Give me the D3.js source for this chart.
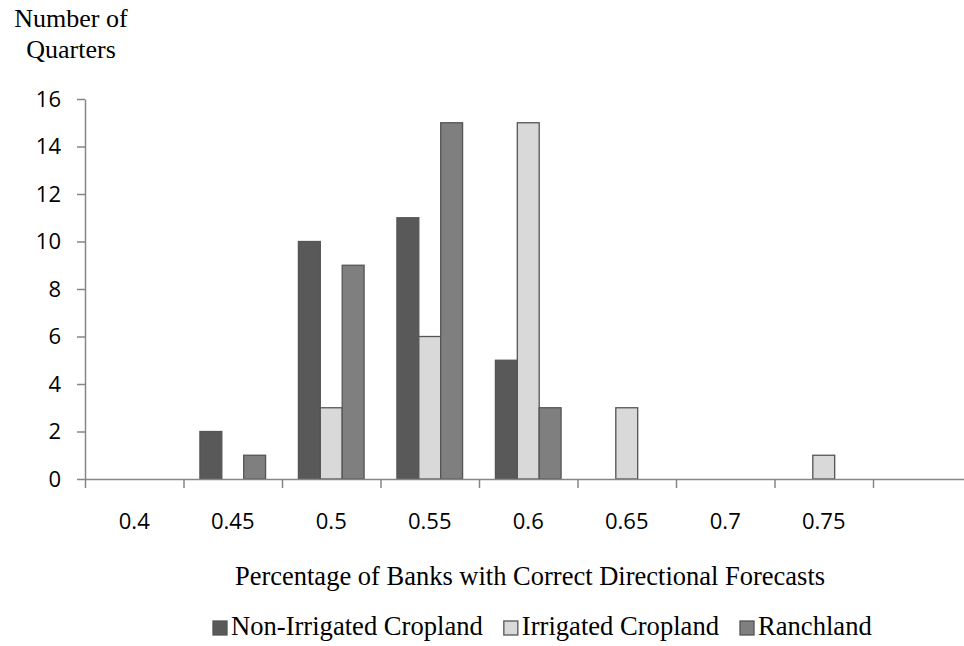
<!DOCTYPE html>
<html>
<head>
<meta charset="utf-8">
<script src="https://cdn.jsdelivr.net/npm/d3@7"></script>
<style>
html,body{margin:0;padding:0;background:#fff;}
svg{display:block;}
</style>
</head>
<body>
<svg id="chart" width="964" height="646"></svg>
<script>
const categories = ["0.4","0.45","0.5","0.55","0.6","0.65","0.7","0.75",""];
const seriesNames = ["Non-Irrigated Cropland","Irrigated Cropland","Ranchland"];
const nonIrrigated = [0,2,10,11,5,0,0,0,0];
const irrigated    = [0,0,3,6,15,3,0,1,0];
const ranchland    = [0,1,9,15,3,0,0,0,0];
const yTicks = [0,2,4,6,8,10,12,14,16];
const colors = ["#595959","#d9d9d9","#7f7f7f"];

(function(){
const seriesValues = [nonIrrigated, irrigated, ranchland];
const svg = d3.select("#chart");
const mLeft = 85, mRight = 971.5, mTop = 99, mBottom = 479;
const axisColor = "#868686";
const serif = "'Liberation Serif','Times New Roman',serif";
const sans = "'Open Sans',sans-serif";

const x = d3.scaleBand().domain(categories).range([mLeft, mRight]).paddingInner(0).paddingOuter(0);
const xInner = d3.scaleBand().domain(seriesNames).range([0, x.bandwidth()]).paddingInner(0).paddingOuter(0.75);
const y = d3.scaleLinear().domain([0,16]).range([mBottom, mTop]);

// bars
const groups = svg.append("g").selectAll("g")
  .data(categories.map((c,i)=>({c,i})))
  .join("g")
  .attr("transform", d => `translate(${x(d.c)},0)`);
groups.selectAll("rect")
  .data(d => seriesNames.map((s,k)=>({s,k,v:seriesValues[k][d.i]})).filter(e=>e.v>0))
  .join("rect")
  .attr("x", d => xInner(d.s))
  .attr("width", xInner.bandwidth())
  .attr("y", d => y(d.v))
  .attr("height", d => y(0) - y(d.v))
  .attr("fill", d => colors[d.k])
  .attr("stroke", "#555")
  .attr("stroke-width", 1.3);

// y axis
const yAxis = svg.append("g").attr("transform", `translate(${mLeft},0)`)
  .call(d3.axisLeft(y).tickValues(yTicks).tickSize(8).tickSizeOuter(0).tickPadding(16));
yAxis.select(".domain").attr("stroke", axisColor).attr("stroke-width", 1.5);
yAxis.selectAll(".tick line").attr("stroke", axisColor).attr("stroke-width", 1.5);
yAxis.selectAll(".tick text").attr("font-family", sans).attr("font-size", 22).attr("fill", "#000");

// x axis tick marks at band boundaries
const xb = d3.scaleLinear().domain([0, categories.length]).range([mLeft, mRight]);
const xTicks = svg.append("g").attr("transform", `translate(0,${mBottom})`)
  .call(d3.axisBottom(xb).tickValues(d3.range(0, categories.length + 1)).tickFormat("").tickSize(9).tickSizeOuter(0));
xTicks.select(".domain").attr("stroke", axisColor).attr("stroke-width", 1.5);
xTicks.selectAll(".tick line").attr("stroke", axisColor).attr("stroke-width", 1.5);

// x axis labels at band centers
const xLabels = svg.append("g").attr("transform", `translate(0,${mBottom})`)
  .call(d3.axisBottom(x).tickSize(0).tickPadding(34));
xLabels.select(".domain").remove();
xLabels.selectAll(".tick text").attr("font-family", sans).attr("font-size", 22).attr("fill", "#000");

// y title
const yt = svg.append("text").attr("font-family", serif).attr("font-size", 26).attr("fill", "#000").attr("text-anchor", "middle");
yt.append("tspan").attr("x", 71).attr("y", 27).text("Number of");
yt.append("tspan").attr("x", 71).attr("y", 58).text("Quarters");

// x title
svg.append("text").attr("x", 530).attr("y", 585)
  .attr("font-family", serif).attr("font-size", 26.5).attr("fill", "#000").attr("text-anchor", "middle")
  .text("Percentage of Banks with Correct Directional Forecasts");

// legend
const legend = svg.append("g");
let lx = 213;
seriesNames.forEach((s,k) => {
  legend.append("rect").attr("x", lx).attr("y", 621).attr("width", 14).attr("height", 14)
    .attr("fill", colors[k]).attr("stroke", "#555").attr("stroke-width", 1.3);
  const t = legend.append("text").attr("x", lx + 18).attr("y", 635)
    .attr("font-family", serif).attr("font-size", 26.6).attr("fill", "#000").text(s);
  lx += 18 + t.node().getComputedTextLength() + 21;
});
})();
</script>
</body>
</html>
